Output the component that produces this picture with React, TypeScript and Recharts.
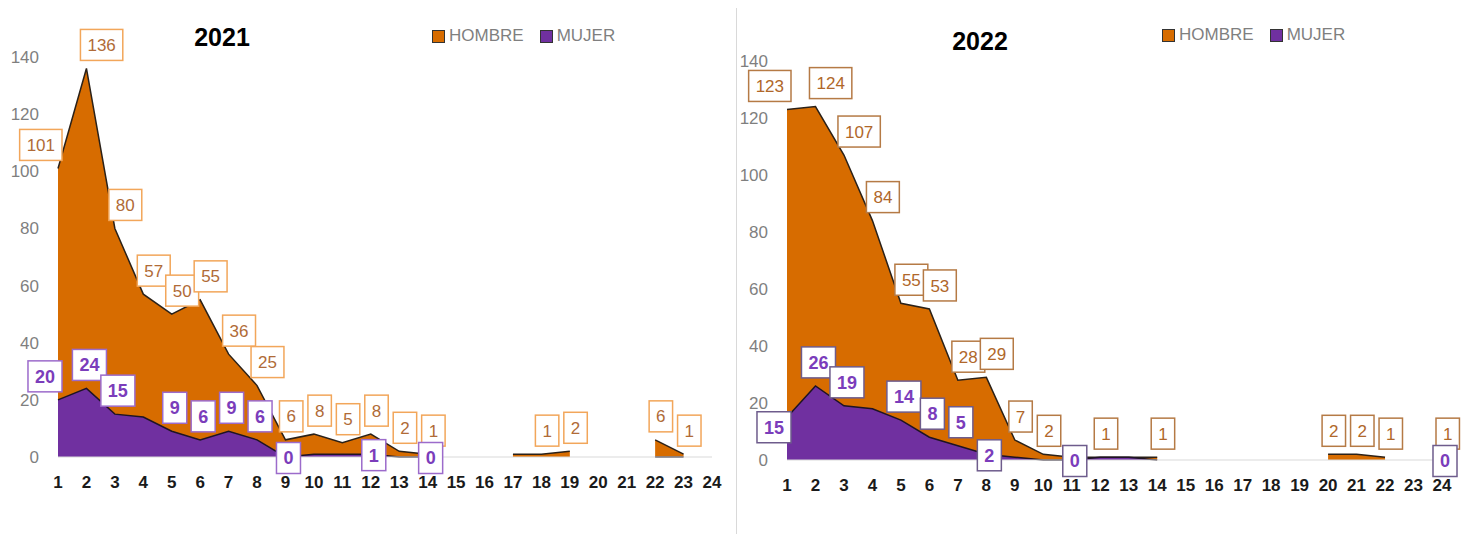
import React from 'react';
import { AreaChart, Area, XAxis, YAxis, LabelList } from 'recharts';

const hours = Array.from({ length: 24 }, (_, i) => i + 1);

// 2021
const hombre2021 = [101, 136, 80, 57, 50, 55, 36, 25, 6, 8, 5, 8, 2, 1, null, null, 1, 1, 2, null, null, 6, 1, null];
const mujer2021 = [20, 24, 15, 14, 9, 6, 9, 6, 0, 1, 1, 1, 0, 0, null, null, null, null, null, null, null, 0, 0, null];
const hombre2021Labeled = [1, 2, 3, 4, 5, 6, 7, 8, 9, 10, 11, 12, 13, 14, 18, 19, 22, 23];
const mujer2021Labeled = [1, 2, 3, 5, 6, 7, 8, 9, 12, 14];

// 2022
const hombre2022 = [123, 124, 107, 84, 55, 53, 28, 29, 7, 2, 1, 1, 1, 1, null, null, null, null, null, 2, 2, 1, null, 1];
const mujer2022 = [15, 26, 19, 18, 14, 8, 5, 2, 1, 0, 0, 1, 1, 0, null, null, null, null, null, null, null, null, null, 0];
const hombre2022Labeled = [1, 2, 3, 4, 5, 6, 7, 8, 9, 10, 12, 14, 20, 21, 22, 24];
const mujer2022Labeled = [1, 2, 3, 5, 6, 7, 8, 11, 24];

const yTicks = [0, 20, 40, 60, 80, 100, 120, 140];

const HOMBRE_FILL = '#D76C00';
const MUJER_FILL = '#7030A0';
const FONT = '"Liberation Sans", Arial, sans-serif';

const buildData = (h: (number | null)[], m: (number | null)[]) =>
  hours.map((hour, i) => ({ hour, hombre: h[i], mujer: m[i] }));

type LabelStyle = {
  labeled: number[];
  text: string;
  border: string;
  bold: boolean;
  fontSize: number;
  lowCentered: boolean;
  anchorLeft: boolean;
  firstBelow?: boolean;
};

const makeLabel = (s: LabelStyle) => (props: any) => {
  const { x, y, value, index } = props;
  if (value === null || value === undefined) return null;
  if (!s.labeled.includes(index + 1)) return null;
  const txt = String(value);
  const w = txt.length * 0.556 * s.fontSize + 14;
  const h = 31;
  let left: number;
  if (index === 0) left = x + 4 - w;
  else if (s.anchorLeft) left = x - 6;
  else left = x + 3 - w / 2;
  const cx = left + w / 2;
  let cy = s.lowCentered && value < 3 ? y + 1 : y - 8 - h / 2;
  if (index === 0 && s.firstBelow) cy = y + 10;
  return (
    <g>
      <rect x={left} y={cy - h / 2} width={w} height={h} fill="#fff" stroke={s.border} strokeWidth={1.5} />
      <text
        x={cx}
        y={cy}
        dy="0.36em"
        textAnchor="middle"
        fill={s.text}
        fontSize={s.fontSize}
        fontWeight={s.bold ? 700 : 400}
        fontFamily={FONT}
      >
        {txt}
      </text>
    </g>
  );
};

type PanelProps = {
  data: any[];
  width: number;
  margin: { top: number; right: number; bottom: number; left: number };
  hombreLabel: LabelStyle;
  mujerLabel: LabelStyle;
};

const Panel = ({ data, width, margin, hombreLabel, mujerLabel }: PanelProps) => (
  <AreaChart width={width} height={534} data={data} margin={margin}>
    <XAxis
      dataKey="hour"
      interval={0}
      height={30}
      tickLine={false}
      tickMargin={13}
      axisLine={{ stroke: '#d9d9d9' }}
      tick={{ fill: '#1a1a1a', fontSize: 17, fontWeight: 700, fontFamily: FONT }}
    />
    <YAxis
      width={40}
      domain={[0, 140]}
      ticks={yTicks}
      axisLine={false}
      tickLine={false}
      tickMargin={13}
      tick={{ fill: '#7f7f7f', fontSize: 17, fontFamily: FONT }}
    />
    <Area
      type="linear"
      dataKey="hombre"
      fill={HOMBRE_FILL}
      fillOpacity={1}
      stroke="#2b2118"
      strokeWidth={1.5}
      connectNulls={false}
      isAnimationActive={false}
    >
      <LabelList dataKey="hombre" content={makeLabel(hombreLabel)} />
    </Area>
    <Area
      type="linear"
      dataKey="mujer"
      fill={MUJER_FILL}
      fillOpacity={1}
      stroke="#1e1424"
      strokeWidth={1.5}
      connectNulls={false}
      isAnimationActive={false}
    >
      <LabelList dataKey="mujer" content={makeLabel(mujerLabel)} />
    </Area>
  </AreaChart>
);

const Legend = ({ left, top }: { left: number; top: number }) => (
  <div style={{ position: 'absolute', left, top, display: 'flex', alignItems: 'center', fontFamily: FONT, fontSize: 17, color: '#7f7f7f' }}>
    <span style={{ width: 11, height: 11, background: HOMBRE_FILL, border: '1px solid #333', marginRight: 4 }} />
    <span style={{ marginRight: 16 }}>HOMBRE</span>
    <span style={{ width: 11, height: 11, background: MUJER_FILL, border: '1px solid #333', marginRight: 4 }} />
    <span>MUJER</span>
  </div>
);

const Title = ({ text, cx, top }: { text: string; cx: number; top: number }) => (
  <div
    style={{
      position: 'absolute',
      left: cx - 60,
      width: 120,
      top,
      textAlign: 'center',
      fontFamily: FONT,
      fontWeight: 700,
      fontSize: 25,
      color: '#000',
    }}
  >
    {text}
  </div>
);

export default function App() {
  return (
    <div style={{ position: 'absolute', left: 0, top: 0, width: 1461, height: 534, background: '#fff', overflow: 'hidden' }}>
      <div style={{ position: 'absolute', left: 0, top: 0 }}>
        <Panel
          data={buildData(hombre2021, mujer2021)}
          width={730}
          margin={{ top: 57, right: 18, bottom: 47, left: 18 }}
          hombreLabel={{ labeled: hombre2021Labeled, text: '#B06B37', border: '#F2A65A', bold: false, fontSize: 17, lowCentered: false, anchorLeft: true }}
          mujerLabel={{ labeled: mujer2021Labeled, text: '#7B3DBB', border: '#9C6BCB', bold: true, fontSize: 18, lowCentered: true, anchorLeft: false }}
        />
      </div>
      <Title text="2021" cx={222} top={23} />
      <Legend left={432} top={26} />

      <div style={{ position: 'absolute', left: 736, top: 8, width: 1, height: 526, background: '#d9d9d9' }} />

      <div style={{ position: 'absolute', left: 737, top: 0 }}>
        <Panel
          data={buildData(hombre2022, mujer2022)}
          width={724}
          margin={{ top: 61, right: 19, bottom: 44, left: 10 }}
          hombreLabel={{ labeled: hombre2022Labeled, text: '#B0672A', border: '#B57A45', bold: false, fontSize: 17, lowCentered: false, anchorLeft: true }}
          mujerLabel={{ labeled: mujer2022Labeled, text: '#7B3DBB', border: '#6E5C8C', bold: true, fontSize: 18, lowCentered: true, anchorLeft: false, firstBelow: true }}
        />
      </div>
      <Title text="2022" cx={980} top={27} />
      <Legend left={1162} top={25} />
    </div>
  );
}
